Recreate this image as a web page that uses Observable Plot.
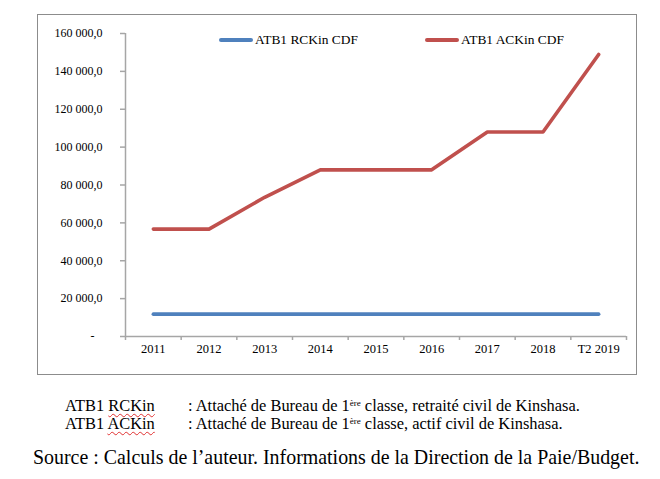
<!DOCTYPE html>
<html>
<head>
<meta charset="utf-8">
<script src="https://cdn.jsdelivr.net/npm/d3@7"></script>
<script src="https://cdn.jsdelivr.net/npm/@observablehq/plot@0.6"></script>
<style>
  html, body { margin: 0; padding: 0; background: #fff; }
  body { width: 660px; height: 479px; position: relative; overflow: hidden; font-family: "Liberation Serif", "Times New Roman", serif; color: #000; }
  #chart { position: absolute; left: 0; top: 0; }
  #chart svg text { font-family: "Liberation Serif", "Times New Roman", serif !important; }
  #frame { position: absolute; left: 37px; top: 14px; width: 598px; height: 359px; border: 1px solid #8c8c8c; pointer-events: none; }
  .t { position: absolute; white-space: nowrap; line-height: 1; font-family: "Liberation Serif", "Times New Roman", serif; }
  .sw { position: absolute; height: 4px; border-radius: 2px; }
  u { text-decoration: underline wavy #e03030; text-decoration-thickness: 1px; text-underline-offset: 2px; }
  sup { font-size: 0.55em; vertical-align: 0.55em; line-height: 0; }
</style>
</head>
<body>
<div id="chart"></div>
<div id="frame"></div>
<div id="overlay"></div>
<script>
const categories = ["2011", "2012", "2013", "2014", "2015", "2016", "2017", "2018", "T2 2019"];
const seriesNames = ["ATB1 RCKin CDF", "ATB1 ACKin CDF"];
const seriesColors = ["#4f81bd", "#c0504d"];
const rckin = [11800, 11800, 11800, 11800, 11800, 11800, 11800, 11800, 11800];
const ackin = [56700, 56700, 73500, 88000, 88000, 88000, 108000, 108000, 148900];
const yTicks = [0, 20000, 40000, 60000, 80000, 100000, 120000, 140000, 160000];
const notesKeys = ["RCKin", "ACKin"];
const notesText = ["retraité civil de Kinshasa.", "actif civil de Kinshasa."];
const sourceText = "Source : Calculs de l’auteur. Informations de la Direction de la Paie/Budget.";

const data = [];
categories.forEach((c, i) => {
  data.push({i, cat: c, series: seriesNames[0], value: rckin[i]});
  data.push({i, cat: c, series: seriesNames[1], value: ackin[i]});
});

const FAM = "'Liberation Serif', 'Times New Roman', serif";
const loc = d3.formatLocale({decimal: ",", thousands: "\u00a0", grouping: [3]});
const fmt = loc.format(",.1f");
const yFmt = v => v === 0 ? "-" : fmt(v);
const boundaries = d3.range(categories.length + 1).map(k => k - 0.5);
const axisColor = "#a6a6a6";

const plot = Plot.plot({
  width: 660,
  height: 380,
  marginLeft: 125,
  marginRight: 34,
  marginTop: 33,
  marginBottom: 44,
  style: `font-family: ${FAM}; font-size: 12px; color: #000; background: transparent;`,
  x: {type: "linear", domain: [-0.5, categories.length - 0.5], axis: null},
  y: {domain: [0, 160000], axis: null},
  color: {domain: seriesNames, range: seriesColors},
  marks: [
    Plot.axisY({ticks: yTicks, tickSize: 5, tickFormat: () => "", stroke: axisColor, strokeWidth: 1.5, label: null}),
    Plot.axisY({ticks: yTicks, tickSize: 0, tickPadding: 23, tickFormat: yFmt, label: null, fill: "#000", fontSize: 12, fontFamily: FAM}),
    Plot.axisX({ticks: boundaries, tickSize: 4, tickFormat: () => "", stroke: axisColor, strokeWidth: 1.5, label: null}),
    Plot.axisX({ticks: d3.range(categories.length), tickSize: 0, tickPadding: 8, tickFormat: i => categories[i], label: null, fill: "#000", fontSize: 12.5, fontFamily: FAM}),
    Plot.ruleY([0], {stroke: axisColor, strokeWidth: 1.5}),
    Plot.ruleX([-0.5], {stroke: axisColor, strokeWidth: 1.5}),
    Plot.line(data, {x: "i", y: "value", z: "series", stroke: "series", strokeWidth: 3.6, strokeLinecap: "round", strokeLinejoin: "round"})
  ]
});
document.getElementById("chart").appendChild(plot);
d3.select(plot).selectAll("text").attr("font-family", FAM)
  .filter(function() { return this.textContent === "-"; }).attr("dx", -8);

// text helpers: fit a font size to a measured width, place by baseline
const ctx = document.createElement("canvas").getContext("2d");
function fitSize(text, target) {
  ctx.font = `100px ${FAM}`;
  return 100 * target / ctx.measureText(text).width;
}
const overlay = document.getElementById("overlay");
function place(html, left, baseline, size) {
  const d = document.createElement("div");
  d.className = "t";
  d.style.fontSize = size + "px";
  d.style.left = left + "px";
  d.style.top = (baseline - 0.8375 * size) + "px";
  d.innerHTML = html;
  overlay.appendChild(d);
  return d;
}

// legend
const legPos = [219, 425];
const legSize = fitSize(seriesNames[0], 103);
seriesNames.forEach((s, k) => {
  const sw = document.createElement("div");
  sw.className = "sw";
  sw.style.left = legPos[k] + "px";
  sw.style.width = "34px";
  sw.style.top = "37.5px";
  sw.style.background = seriesColors[k];
  overlay.appendChild(sw);
  place(s, legPos[k] + 36, 44, legSize);
});

// notes
const noteSize = fitSize(": Attaché de Bureau de 1ère classe, " + notesText[0], 402);
const baselines = [412, 430];
notesKeys.forEach((k, j) => {
  place(`ATB1 <u>${k}</u>`, 65, baselines[j], noteSize);
  place(`: Attaché de Bureau de 1<sup>ère</sup> classe, ${notesText[j]}`, 188, baselines[j], noteSize);
});

// source
place(sourceText, 33, 464.5, fitSize(sourceText, 607));
</script>
</body>
</html>
